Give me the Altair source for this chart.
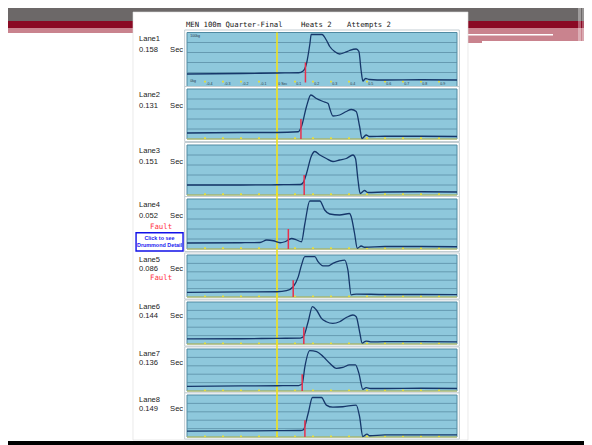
import altair as alt
import pandas as pd

# ---------------- data ----------------
lanes = ["Lane1", "Lane2", "Lane3", "Lane4", "Lane5", "Lane6", "Lane7", "Lane8"]
reaction = ["0.158", "0.131", "0.151", "0.052", "0.086", "0.144", "0.136", "0.149"]
fault = [False, False, False, True, True, False, False, False]
red_marks = [0.158, 0.133, 0.151, 0.063, 0.090, 0.149, 0.140, 0.155]
red_top = 40

lane1_t = [-0.5, -0.2, 0.0, 0.12, 0.145, 0.164, 0.183, 0.19, 0.25, 0.274, 0.293, 0.32, 0.348, 0.376, 0.403, 0.44, 0.455, 0.467, 0.477, 0.492, 0.514, 0.6, 0.8, 1.0]
lane1_f = [17, 18, 19, 19.5, 23, 38, 78, 96, 96, 85, 72, 62, 57, 60, 64, 67, 62, 25, 3, 8, 6, 5, 5.5, 5]
lane2_t = [-0.5, -0.2, 0.0, 0.118, 0.136, 0.164, 0.188, 0.219, 0.256, 0.284, 0.293, 0.311, 0.348, 0.385, 0.413, 0.44, 0.459, 0.472, 0.495, 0.514, 0.6, 0.8, 1.0]
lane2_f = [12, 13, 13, 14.5, 25, 65, 88, 81, 75, 71, 61, 46, 48, 55, 59, 55, 25, 1, 8, 5, 5.5, 5.5, 5]
lane3_t = [-0.5, -0.2, 0.0, 0.13, 0.146, 0.164, 0.19, 0.21, 0.238, 0.274, 0.311, 0.348, 0.385, 0.422, 0.436, 0.45, 0.462, 0.486, 0.505, 0.6, 0.8, 1.0]
lane3_f = [20, 20, 20.5, 21, 25, 43, 77, 87, 80, 73, 67, 70, 73, 80, 73, 30, 3, 9, 5, 6, 6.5, 6]
lane4_t = [-0.5, -0.2, -0.094, -0.057, -0.02, 0.017, 0.044, 0.081, 0.109, 0.136, 0.155, 0.182, 0.238, 0.265, 0.293, 0.348, 0.403, 0.412, 0.431, 0.446, 0.468, 0.486, 0.6, 0.8, 1.0]
lane4_f = [12, 12.5, 13, 18, 16.5, 12.5, 14.5, 21, 18, 14.5, 51, 96, 96, 78, 70, 68, 71, 65, 31, 1.5, 6, 3.5, 5, 5, 4.5]
lane5_t = [-0.5, -0.2, 0.0, 0.053, 0.09, 0.118, 0.136, 0.155, 0.21, 0.228, 0.256, 0.284, 0.31, 0.348, 0.376, 0.394, 0.412, 0.44, 0.6, 0.8, 1.0]
lane5_f = [11, 12, 12.5, 15, 24.5, 48, 76, 96, 96, 84, 74, 74, 80, 86, 88, 64, 5, 7, 6, 6, 5.5]
lane6_t = [-0.5, -0.2, 0.0, 0.13, 0.146, 0.173, 0.197, 0.219, 0.247, 0.274, 0.31, 0.348, 0.385, 0.422, 0.44, 0.459, 0.473, 0.495, 0.52, 0.6, 0.8, 1.0]
lane6_f = [12, 12.5, 13.5, 14, 17, 53, 89, 81, 61, 53, 49, 53, 63, 69, 65, 29, 2, 7, 5, 5.5, 5.5, 5]
lane7_t = [-0.5, -0.2, 0.0, 0.12, 0.14, 0.155, 0.182, 0.22, 0.256, 0.293, 0.33, 0.366, 0.403, 0.436, 0.455, 0.477, 0.495, 0.52, 0.6, 0.8, 1.0]
lane7_f = [11, 12, 12.5, 13, 17, 58, 96, 94, 82, 66, 54, 56, 62, 62, 42, 4, 8, 6, 6, 6.5, 6]
lane8_t = [-0.5, -0.2, 0.0, 0.13, 0.146, 0.173, 0.197, 0.247, 0.274, 0.31, 0.366, 0.44, 0.459, 0.477, 0.5, 0.514, 0.6, 0.8, 1.0]
lane8_f = [14, 14.5, 15, 15.5, 17, 56, 94, 94, 76, 71, 72, 76, 48, 1, 7, 3, 5, 5, 5]

curves_t = [lane1_t, lane2_t, lane3_t, lane4_t, lane5_t, lane6_t, lane7_t, lane8_t]
curves_f = [lane1_f, lane2_f, lane3_f, lane4_f, lane5_f, lane6_f, lane7_f, lane8_f]

tick_times = [-0.4, -0.3, -0.2, -0.1, 0.0, 0.1, 0.2, 0.3, 0.4, 0.5, 0.6, 0.7, 0.8, 0.9]
tick_labels = ["-0.4", "-0.3", "-0.2", "-0.1", "0 Sec", "0.1", "0.2", "0.3", "0.4", "0.5", "0.6", "0.7", "0.8", "0.9"]
grid_levels = [20, 40, 60, 80]

title_parts = ["MEN 100m Quarter-Final", "Heats 2", "Attempts 2"]

# ---------------- layout ----------------
W, H = 576, 437
lane_y0 = [74.5, 131, 187, 241, 289, 336, 383, 429]
lane_y100 = [24.5, 81, 137, 191, 247, 294, 341, 387]
xs = alt.Scale(domain=[-0.5, 1.0], range=[179, 449], nice=False, zero=False)

one = pd.DataFrame({"k": [0]})


def deco(x1, x2, y1, y2, color, opacity=1.0):
    return alt.Chart(one).mark_rect(color=color, opacity=opacity).encode(
        x=alt.value(x1), x2=alt.value(x2), y=alt.value(y1), y2=alt.value(y2))


deco_layers = [
    deco(0, W, 0, 13, "#6c6868"),
    deco(0, W, 13, 20, "#8a0a24"),
    deco(0, 125, 20, 25, "#c9838e"),
    deco(460, 474, 20, 35, "#c9838e"),
    deco(474, W, 20, 33, "#c9838e"),
    deco(459, 545, 26, 27.5, "#ffffff"),
    deco(570, 573, 0, 35, "#ffffff", 0.35),
    deco(574, W, 0, 35, "#ffffff", 0.3),
    deco(0, W, 433, H, "#000000"),
    alt.Chart(one).mark_rect(fill="#ffffff", stroke="#dcdcdc", strokeWidth=0.6).encode(
        x=alt.value(125), x2=alt.value(460), y=alt.value(4), y2=alt.value(432)),
]


def lane_chart(i):
    ys = alt.Scale(domain=[0, 100], range=[lane_y0[i], lane_y100[i]], nice=False, zero=False)

    def X(v):
        return alt.XDatum(v, scale=xs, axis=None)

    def Y(v):
        return alt.YDatum(v, scale=ys, axis=None)

    bottom = -8 if i == 0 else 0
    top_yellow = 100 if i == 0 else 112
    layers = []
    layers.append(alt.Chart(one).mark_rect(fill="#ffffff", stroke="#c3cdd2", strokeWidth=1).encode(
        x=X(-0.513), x2=alt.datum(1.013), y=Y(bottom - 5), y2=alt.datum(105)))
    layers.append(alt.Chart(one).mark_rect(fill="#8ec8dc", stroke="#4f8aa2", strokeWidth=1).encode(
        x=X(-0.5), x2=alt.datum(1.0), y=Y(bottom), y2=alt.datum(100)))
    grid_df = pd.DataFrame({"g": grid_levels})
    layers.append(alt.Chart(grid_df).mark_rule(color="#5b8ea6", strokeWidth=0.8).encode(
        y=alt.Y("g:Q", scale=ys, axis=None), x=X(-0.5), x2=alt.datum(1.0)))
    layers.append(alt.Chart(one).mark_rule(color="#cfca5a", strokeWidth=1).encode(
        y=Y(bottom), x=X(-0.5), x2=alt.datum(1.0)))
    tick_df = pd.DataFrame({"t": tick_times, "lab": tick_labels})
    layers.append(alt.Chart(tick_df).mark_square(size=3, color="#efe02a", opacity=1).encode(
        x=alt.X("t:Q", scale=xs, axis=None), y=Y(1.8)))
    if i == 0:
        layers.append(alt.Chart(tick_df).mark_text(fontSize=3.6, align="left", dx=1.2, color="#27384a",
                                                   font="Liberation Sans").encode(
            x=alt.X("t:Q", scale=xs, axis=None), y=Y(-3.5), text="lab:N"))
        layers.append(alt.Chart(one).mark_text(fontSize=3.6, align="left", color="#27384a",
                                               font="Liberation Sans").encode(
            x=X(-0.482), y=Y(94), text=alt.value("100kg")))
        layers.append(alt.Chart(one).mark_text(fontSize=3.6, align="left", color="#27384a",
                                               font="Liberation Sans").encode(
            x=X(-0.482), y=Y(3), text=alt.value("0kg")))
        for txt, tx in zip(title_parts, [-0.506, 0.133, 0.389]):
            layers.append(alt.Chart(one).mark_text(fontSize=7.3, align="left", baseline="middle",
                                                   color="#151515", font="DejaVu Sans Mono").encode(
                x=X(tx), y=Y(115), text=alt.value(txt)))
    layers.append(alt.Chart(one).mark_rule(color="#f2e21c", strokeWidth=1.6).encode(
        x=X(0.0), y=Y(bottom), y2=alt.datum(top_yellow)))
    curve = pd.DataFrame({"t": curves_t[i], "f": curves_f[i]})
    layers.append(alt.Chart(curve).mark_line(color="#16376a", strokeWidth=1.3, interpolate="monotone").encode(
        x=alt.X("t:Q", scale=xs, axis=None), y=alt.Y("f:Q", scale=ys, axis=None)))
    layers.append(alt.Chart(one).mark_rule(color="#e8304c", strokeWidth=1.5).encode(
        x=X(red_marks[i]), y=Y(0), y2=alt.datum(red_top)))
    # labels on the left
    lab_style = dict(align="left", baseline="middle", fontSize=7.6, color="#222222", font="Liberation Sans")
    layers.append(alt.Chart(one).mark_text(**lab_style).encode(
        x=X(-0.767), y=Y(88), text=alt.value(lanes[i])))
    layers.append(alt.Chart(one).mark_text(**lab_style).encode(
        x=X(-0.767), y=Y(66), text=alt.value(reaction[i])))
    layers.append(alt.Chart(one).mark_text(**lab_style).encode(
        x=X(-0.594), y=Y(66), text=alt.value("Sec")))
    if fault[i]:
        layers.append(alt.Chart(one).mark_text(align="center", baseline="middle", fontSize=7.4,
                                               color="#ff3346", font="DejaVu Sans Mono").encode(
            x=X(-0.644), y=Y(45), text=alt.value("Fault")))
    if i == 3:
        layers.append(alt.Chart(one).mark_rect(fill="#ffffff", stroke="#1010e8", strokeWidth=1.4).encode(
            x=X(-0.783), x2=alt.datum(-0.522), y=Y(-4), y2=alt.datum(32.5)))
        for txt, ty in zip(["Click to see", "Drummond Detail"], [22, 8.5]):
            layers.append(alt.Chart(one).mark_text(align="center", baseline="middle", fontSize=5.4,
                                                   fontWeight="bold", color="#1a1af0",
                                                   font="Liberation Sans").encode(
                x=X(-0.653), y=Y(ty), text=alt.value(txt)))
    return alt.layer(*layers)


lane_layers = [lane_chart(i) for i in range(8)]

chart = alt.layer(*deco_layers, *lane_layers).resolve_scale(y="independent").properties(
    width=W, height=H, autosize=alt.AutoSizeParams(type="none"), padding=0, background="white"
).configure_view(stroke=None)

chart.save("out.html", embed_options={"renderer": "svg", "actions": False})
